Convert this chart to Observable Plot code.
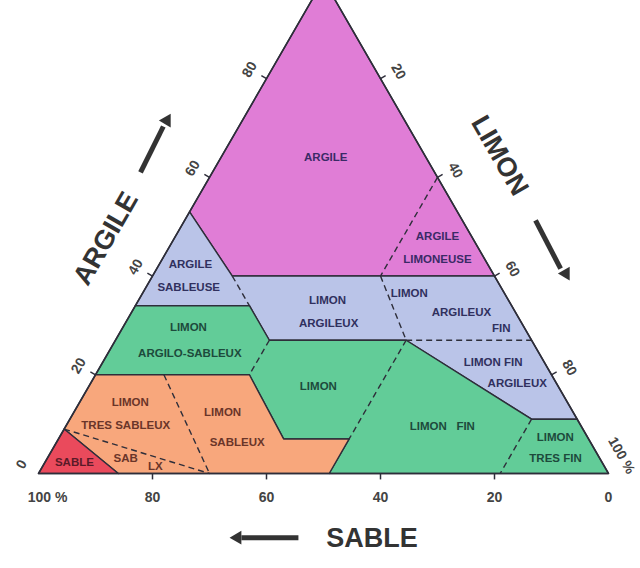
<!DOCTYPE html>
<html><head><meta charset="utf-8">
<script src="https://cdn.jsdelivr.net/npm/d3@7"></script>
<script src="https://cdn.jsdelivr.net/npm/@observablehq/plot@0.6"></script>
<style>
body{margin:0;background:#fff;}
#chart svg{display:block;overflow:hidden;}
</style>
</head><body><div id="chart"></div>
<script>
// ---- DATA : compositions as [silt %, clay %] (sand = 100 - silt - clay) ----
const argile          = [[0,100],[60,40],[14,40],[0,53]];
const limonsArgileux  = [[0,53],[14,40],[60,40],[89,11],[81,11],[51,27],[27,27],[20,34],[0,34]];
const limons          = [[0,34],[20,34],[27,27],[51,27],[81,11],[89,11],[100,0],[51,0],[51,7],[39.5,7],[27,20],[0,20]];
const limonsSableux   = [[0,20],[27,20],[39.5,7],[51,7],[51,0],[14,0],[0,9]];
const sable           = [[0,9],[14,0],[0,0]];

const dashedLines = [
  [[40,60],[40,40]],
  [[40,40],[51,27]],
  [[51,27],[73,27]],
  [[14,40],[20,34]],
  [[27,27],[27,20]],
  [[51,27],[51,7]],
  [[12,20],[30,0]],
  [[0,9],[30,0]],
  [[81,11],[81,0]]
];

const labelText  = ["ARGILE","ARGILE","LIMONEUSE","ARGILE","SABLEUSE","LIMON","ARGILEUX","LIMON","ARGILEUX","FIN",
                    "LIMON","ARGILO-SABLEUX","LIMON","LIMON FIN","ARGILEUX","LIMON   FIN","LIMON","TRES FIN",
                    "LIMON","TRES SABLEUX","LIMON","SABLEUX","SABLE","SAB","LX"];
const labelSilt  = [18.4,46,48.3,5.5,7.5,33.2,35.7,46.8,57.9,66.5,
                    11.5,14.4,40.3,68.5,74.9,66.1,87,89.2,
                    8.9,10.4,26.1,31.7,5.2,13.8,19.8];
const labelClay  = [64,48,43.4,42.3,37.7,35,30.4,36.5,32.6,29.4,
                    29.6,24.3,17.6,22.5,18.2,9.5,7.3,3.0,
                    14.4,9.8,12.4,6.3,2.2,3.0,1.4];
const labelZone  = ["a","a","a","b","b","b","b","b","b","b",
                    "g","g","g","b","b","g","g","g",
                    "o","o","o","o","r","o","o"];

const tickValues   = [0,20,40,60,80,100];
const sandLabels   = ["100 %","80","60","40","20","0"];
const clayLabels   = ["0","20","40","60","80"];
const siltLabels   = ["20","40","60","80"];

// ---- helpers ----
const X = (s,c) => s + c/2;
const ink = "#2e2e3a";
const zoneInk = {a:"#3a2a66", b:"#30305e", g:"#1d4a3c", o:"#6a3529", r:"#5a1a28"};
const font = "Liberation Sans, Arial, sans-serif";

function poly(pts, fill){
  return Plot.line(pts, {x:d=>X(d[0],d[1]), y:d=>d[1], fill, stroke:ink, strokeWidth:1.4, curve:"linear-closed"});
}

const labels = labelText.map((t,i)=>({t, s:labelSilt[i], c:labelClay[i], z:labelZone[i]}));
const innerTicks = tickValues.slice(1,5);

const chart = Plot.plot({
  width:640, height:568, margin:0,
  style:{fontFamily:font, background:"#fff"},
  x:{domain:[0,100], range:[38,608], axis:null},
  y:{domain:[0,100], range:[473,-20.6], axis:null},
  marks:[
    poly(argile, "#e07dd6"),
    poly(limonsArgileux, "#bac4e8"),
    poly(limons, "#62cc98"),
    poly(limonsSableux, "#f8a77c"),
    poly(sable, "#ea4a5c"),
    Plot.link(dashedLines, {x1:d=>X(...d[0]), y1:d=>d[0][1], x2:d=>X(...d[1]), y2:d=>d[1][1],
      stroke:ink, strokeWidth:1.4, strokeDasharray:"6,4"}),
    // outer triangle
    Plot.line([[0,0],[100,0],[0,100]], {x:d=>X(d[0],d[1]), y:d=>d[1], stroke:ink, strokeWidth:1.6, curve:"linear-closed"}),
    // ticks
    Plot.link(innerTicks, {x1:v=>v, y1:0, x2:v=>v, y2:-1.2, stroke:ink, strokeWidth:1.5}),
    Plot.link(innerTicks, {x1:v=>v/2, y1:v=>v, x2:v=>v/2-0.9, y2:v=>v+0.6, stroke:ink, strokeWidth:1.5}),
    Plot.link(innerTicks, {x1:v=>50+v/2, y1:v=>100-v, x2:v=>50+v/2+0.9, y2:v=>100-v+0.6, stroke:ink, strokeWidth:1.5}),
    // tick labels
    Plot.text(tickValues.slice(1), {x:v=>v, y:0, text:(v,i)=>sandLabels[i+1], dy:24, fontSize:14, fontWeight:"bold", fill:"#444"}),
    Plot.text([0], {x:0, y:0, text:()=>sandLabels[0], dy:24, dx:9, fontSize:14, fontWeight:"bold", fill:"#444"}),
    Plot.text(tickValues.slice(0,5), {x:v=>v/2, y:v=>v, text:(v,i)=>clayLabels[i], dx:-17, dy:-9, rotate:-60, fontSize:14, fontWeight:"bold", fill:"#444"}),
    Plot.text(innerTicks, {x:v=>50+v/2, y:v=>100-v, text:(v,i)=>siltLabels[i], dx:18, dy:-7, rotate:60, fontSize:14, fontWeight:"bold", fill:"#444"}),
    Plot.text([100], {x:100, y:0, text:()=>"100 %", dx:13, dy:-18, rotate:60, fontSize:14, fontWeight:"bold", fill:"#444"}),
    // region labels
    Plot.text(labels, {x:d=>X(d.s,d.c), y:d=>d.c, text:"t", fill:d=>zoneInk[d.z], fontSize:11.5, fontWeight:"bold", letterSpacing:"1px"}),
    // axis titles & arrows (positions along the triangle's frame)
    Plot.text(["SABLE"], {x:58.5, y:-13.2, text:d=>d, fontSize:27, fontWeight:"bold", fill:"#333"}),
    Plot.text(["ARGILE"], {x:11.8, y:47.6, text:d=>d, rotate:-60, fontSize:27, fontWeight:"bold", fill:"#333"}),
    Plot.text(["LIMON"], {x:80.9, y:64.4, text:d=>d, rotate:60, fontSize:27, fontWeight:"bold", fill:"#333", letterSpacing:"2px"}),
    Plot.link([0], {x1:45.6, y1:-13.0, x2:35.6, y2:-13.0, stroke:"#333", strokeWidth:5}),
    Plot.link([0], {x1:17.9, y1:61.0, x2:21.9, y2:70.3, stroke:"#333", strokeWidth:5}),
    Plot.link([0], {x1:87.2, y1:51.3, x2:91.6, y2:41.5, stroke:"#333", strokeWidth:5}),
    Plot.dot([0], {x:34.9, y:-13.0, symbol:"triangle2", r:6.5, fill:"#333", rotate:-90}),
    Plot.dot([0], {x:22.5, y:71.5, symbol:"triangle2", r:6.5, fill:"#333", rotate:30}),
    Plot.dot([0], {x:92.5, y:40.5, symbol:"triangle2", r:6.5, fill:"#333", rotate:150})
  ]
});
document.getElementById("chart").append(chart);
</script>
</body></html>
